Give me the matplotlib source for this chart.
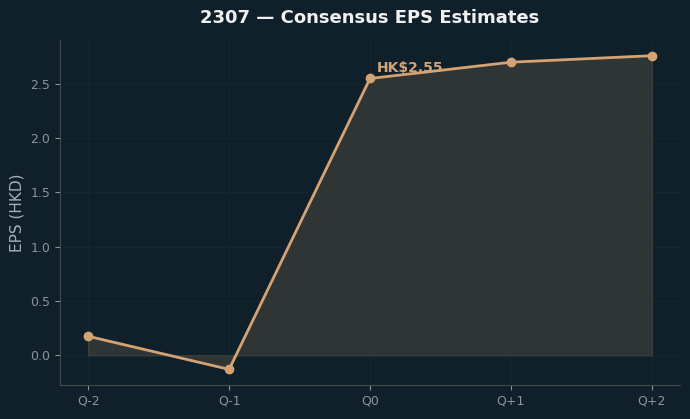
import matplotlib
matplotlib.use("Agg")
import matplotlib.pyplot as plt
import numpy as np

quarters = ["Q-2", "Q-1", "Q0", "Q+1", "Q+2"]
eps = [0.175, -0.13, 2.55, 2.70, 2.76]
current_label = "HK\\$2.55"

bg = "#10202a"
line_col = "#d4a373"

fig = plt.figure(figsize=(6.9, 4.19), dpi=100, facecolor=bg)
ax = fig.add_axes([0.087, 0.081, 0.8985, 0.8235], facecolor=bg)

x = np.arange(len(quarters))
ax.fill_between(x, 0, eps, color="#2f3434", edgecolor="#3a3e3c", linewidth=1, zorder=1)
ax.plot(x, eps, color=line_col, linewidth=2, marker="o", markersize=6, zorder=3)
ax.annotate(current_label, (x[2], eps[2]), xytext=(5, 5), textcoords="offset points",
            color=line_col, fontsize=10, fontweight="bold")

ax.set_xticks(x)
ax.set_xticklabels(quarters)
ax.set_ylabel("EPS (HKD)", color="#a9aeb3", fontsize=11)
ax.set_title("2307 — Consensus EPS Estimates", color="#f0f0f0", fontsize=13,
             fontweight="bold", pad=12)

ax.grid(True, color="#16262e", linewidth=0.8)
ax.set_axisbelow(True)
for s in ["top", "right"]:
    ax.spines[s].set_visible(False)
for s in ["left", "bottom"]:
    ax.spines[s].set_color("#444a4c")
ax.tick_params(colors="#8a9399", labelsize=9)

fig.savefig("out.png", facecolor=bg)
